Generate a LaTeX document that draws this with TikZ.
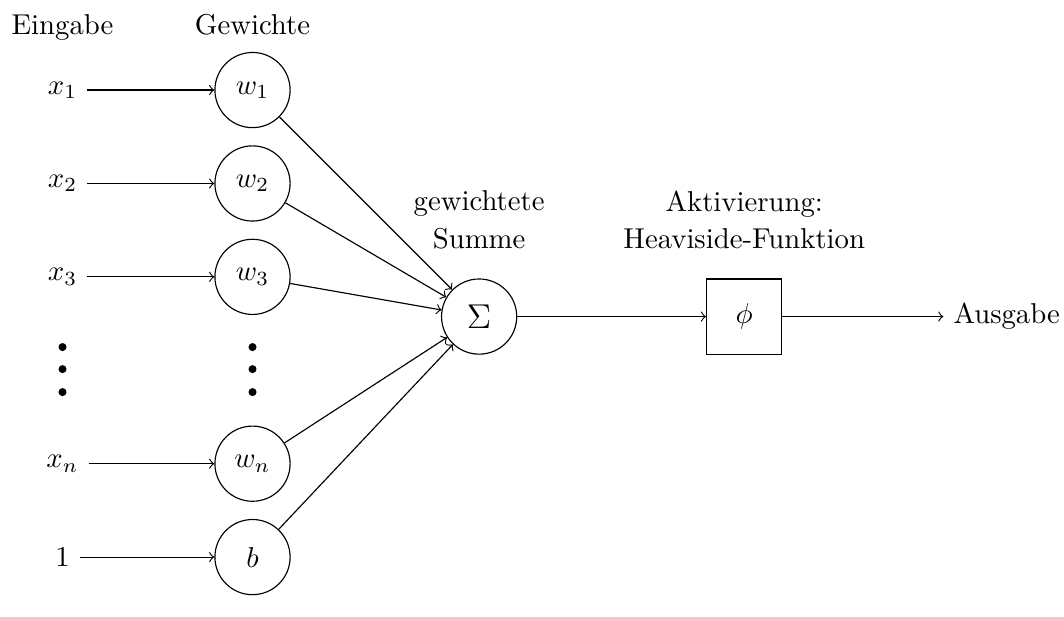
\documentclass[tikz,border=0pt]{standalone}
\usepackage{amsmath,amssymb}
\usepackage{tikz}
\usetikzlibrary{positioning}

\begin{document}
\begin{tikzpicture}[
  every node/.style={font=\normalsize},
  neuron/.style={draw,circle,minimum size=9.2mm,inner sep=0pt},
  actbox/.style={draw,minimum size=9.2mm,inner sep=0pt},
  lbl/.style={align=center},
  dot/.style={circle,fill,inner sep=0pt,minimum size=2.8pt},
  arr/.style={->}
]
\useasboundingbox (0,0) rectangle (13.02,-7.54);

\node (x1) at (0.765,-1.102) {$x_1$};
\node (x2) at (0.765,-2.245) {$x_2$};
\node (x3) at (0.765,-3.388) {$x_3$};
\node (xn) at (0.765,-5.674) {$x_n$};
\node (one) at (0.765,-6.817) {$1$};

\node[neuron] (w1) at (3.09,-1.102) {$w_1$};
\node[neuron] (w2) at (3.09,-2.245) {$w_2$};
\node[neuron] (w3) at (3.09,-3.388) {$w_3$};
\node[neuron] (wn) at (3.09,-5.674) {$w_n$};
\node[neuron] (b) at (3.09,-6.817) {$b$};

% vertical dots between row 3 and row n
\foreach \i/\yy in {1/-4.247,2/-4.517,3/-4.798} {
  \node[dot] (xdot\i) at (0.765,\yy) {};
  \node[dot] (wdot\i) at (3.09,\yy) {};
}

\node[neuron] (sigma) at (5.863,-3.874) {\large $\Sigma$};
\node[actbox, right=2.31cm of sigma] (phi) {$\phi$};
\node[right=1.97cm of phi] (out) {Ausgabe};

\node[anchor=base] (eingabe) at (0.765,-0.422) {Eingabe};
\node[anchor=base] (gewichte) at (3.09,-0.422) {Gewichte};
\node[lbl, above=2.4mm of sigma] (sumlbl) {gewichtete\\[1pt]Summe};
\node[lbl, above=2.4mm of phi] (actlbl) {Aktivierung:\\[1pt]Heaviside-Funktion};

\draw[arr] (x1) -- (w1);
\draw[arr] (x2) -- (w2);
\draw[arr] (x3) -- (w3);
\draw[arr] (xn) -- (wn);
\draw[arr] (one) -- (b);

\draw[arr] (w1) -- (sigma);
\draw[arr] (w2) -- (sigma);
\draw[arr] (w3) -- (sigma);
\draw[arr] (wn) -- (sigma);
\draw[arr] (b) -- (sigma);

\draw[arr] (sigma) -- (phi);
\draw[arr] (phi) -- (out);
\end{tikzpicture}
\end{document}
